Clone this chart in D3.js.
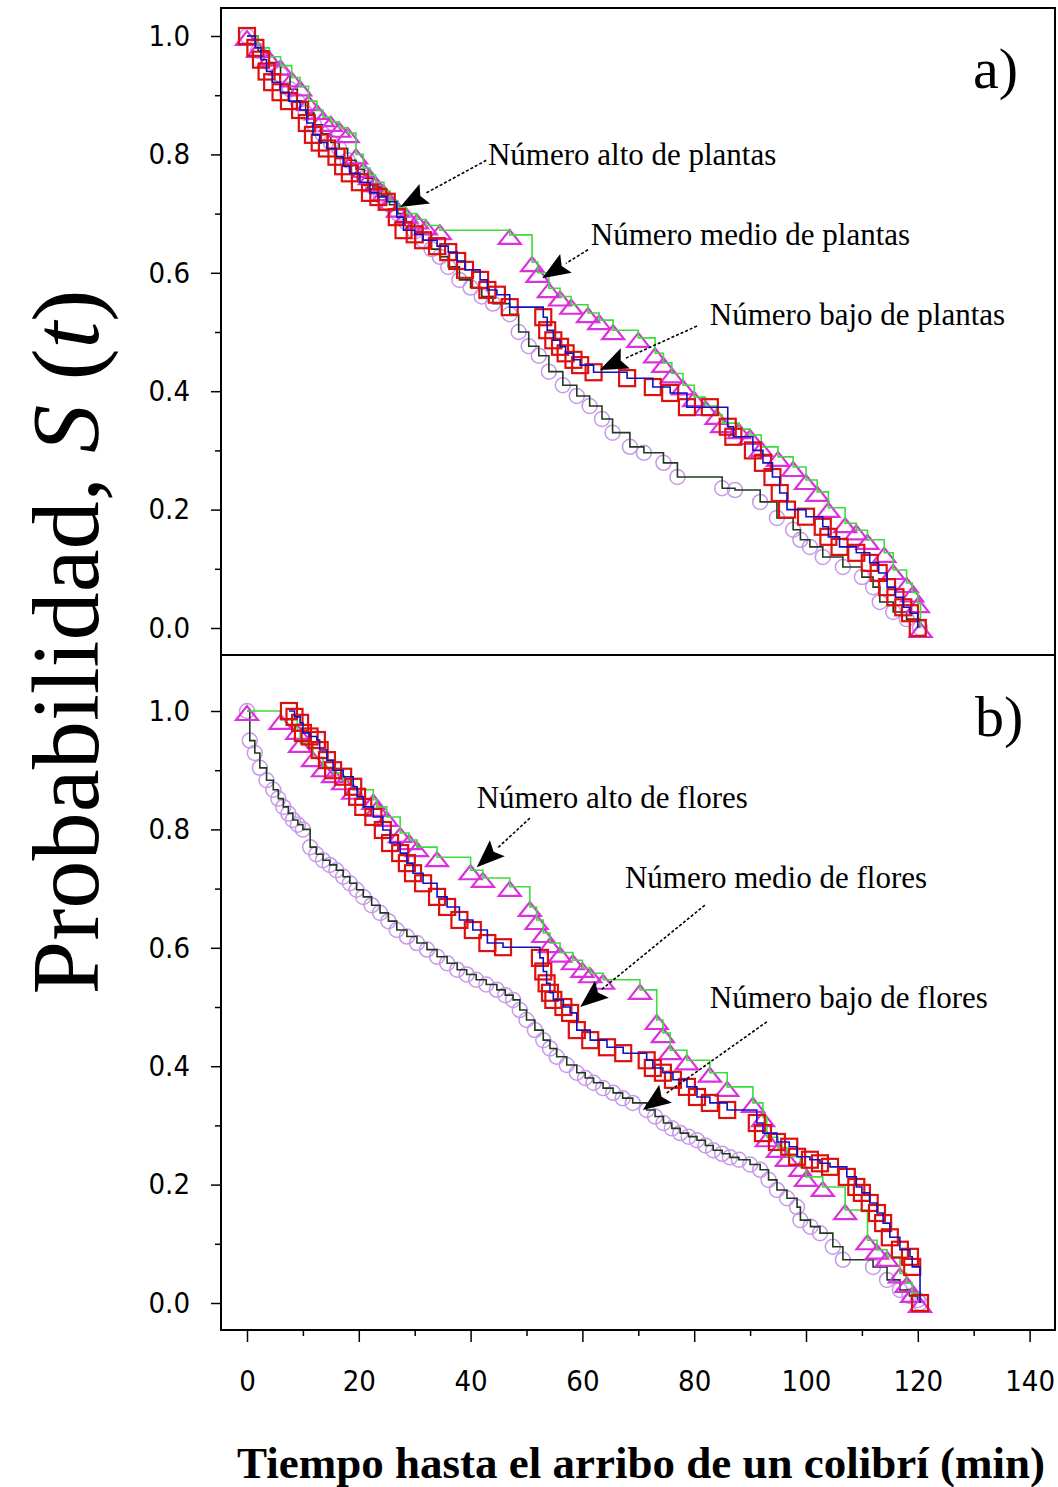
<!DOCTYPE html>
<html>
<head>
<meta charset="utf-8">
<title>Probabilidad S(t)</title>
<script src="https://d3js.org/d3.v7.min.js"></script>
<style>
  body { margin: 0; background: #fff; }
  .tick text { font-family: "Liberation Sans Narrow", "DejaVu Sans Condensed", sans-serif; font-size: 29px; fill: #000; }
  .tick line { stroke: #000; stroke-width: 1.5; }
  .anot { font-family: "Liberation Serif", "Times New Roman", serif; font-size: 31px; fill: #000; }
</style>
</head>
<body>
<div id="chart"></div>
<script>
// ---- datos: [tiempo (min), S(t)] ----
// a) plantas
var plantasAlto = [[0,1.0],[2,0.975],[4,0.955],[6,0.935],[7.7,0.91],[9,0.89],[10.5,0.87],[12,0.85],[13.5,0.835],
  [15,0.82],[16.5,0.81],[18,0.79],[19.5,0.775],[21,0.76],[22.5,0.745],[24,0.73],[25.5,0.715],[27,0.70],[28.5,0.685],
  [30,0.67],[31.5,0.655],[33,0.64],[34.5,0.627],[36,0.61],[38,0.588],[40,0.575],[42,0.56],[44,0.548],[47,0.53],
  [48.6,0.5],[50.4,0.476],[52.2,0.46],[54,0.433],[56.5,0.41],[59,0.392],[61.3,0.375],[63.5,0.353],[65.4,0.33],
  [68.5,0.306],[71,0.296],[74.5,0.279],[77,0.255],[85,0.236],[87.3,0.233],[91.8,0.213],[94.8,0.186],[97.7,0.166],
  [99,0.149],[100.7,0.137],[103,0.12],[106.6,0.103],[110,0.086],[112,0.069],[113.2,0.044],[115.6,0.027],[118,0.015],[120.4,0.0]];
var plantasMedio = [[0,1.0],[2,0.98],[4,0.965],[6,0.95],[8,0.93],[9.5,0.915],[11,0.89],[12.5,0.875],[13.6,0.863],
  [15,0.855],[16.5,0.845],[18,0.836],[19.5,0.80],[20.8,0.777],[22,0.765],[23,0.753],[24.5,0.738],[25.6,0.722],[27,0.71],
  [28.5,0.70],[30.4,0.69],[32,0.68],[34.5,0.672],[47,0.664],[51,0.618],[52,0.60],[54,0.574],[56,0.56],[58,0.546],
  [61,0.532],[63,0.52],[65.5,0.503],[70,0.49],[73,0.464],[74.5,0.448],[76,0.43],[78,0.41],[80,0.39],[82,0.375],
  [84,0.36],[85,0.346],[88,0.336],[90,0.326],[92,0.306],[95,0.289],[97.7,0.272],[100,0.25],[102,0.23],[104,0.203],
  [107,0.177],[109,0.165],[111,0.149],[114,0.127],[115.6,0.098],[118,0.076],[119,0.06],[120,0.042],[120.5,0.0]];
var plantasBajo = [[0,1.0],[1.5,0.98],[2.5,0.96],[3.5,0.94],[4.5,0.922],[6,0.905],[7.5,0.89],[9.5,0.875],[10.7,0.853],
  [11.8,0.833],[13,0.82],[14.3,0.81],[16,0.796],[17.2,0.78],[18.4,0.768],[20.2,0.753],[22,0.735],[23.5,0.728],[25,0.72],
  [26.8,0.694],[28,0.672],[30,0.665],[31.5,0.655],[34,0.645],[36,0.635],[37.6,0.62],[39,0.605],[41.7,0.588],[43,0.571],
  [44.7,0.563],[47,0.542],[53,0.525],[53.7,0.503],[54.8,0.486],[56,0.475],[57,0.464],[58.4,0.453],[59.6,0.444],
  [62,0.432],[68,0.422],[72.6,0.407],[75.7,0.397],[78.7,0.373],[82.8,0.373],[86,0.34],[87,0.323],[90.5,0.30],
  [92.3,0.279],[94,0.255],[95.3,0.228],[96.6,0.20],[100,0.188],[103,0.171],[104,0.154],[106,0.137],[109,0.127],
  [111.4,0.11],[113,0.093],[114.5,0.069],[116,0.052],[117.4,0.035],[118.6,0.025],[120,0.0]];

// b) flores
var floresAlto = [[0,1.0],[6,0.985],[9,0.968],[9.5,0.946],[11.8,0.922],[13.6,0.905],[15.4,0.895],[17.2,0.883],
  [19,0.867],[22.6,0.85],[23.2,0.838],[25,0.821],[27.4,0.794],[29,0.782],[30.4,0.77],[34,0.753],[40,0.731],
  [42.2,0.718],[47,0.703],[50.6,0.669],[51.8,0.647],[53,0.625],[54.2,0.608],[56,0.592],[58.3,0.579],[60,0.566],
  [61.4,0.557],[63.7,0.546],[70.3,0.529],[73.3,0.478],[74.4,0.456],[75.7,0.427],[78.7,0.41],[82.8,0.389],
  [85.9,0.365],[90.5,0.338],[92.3,0.314],[93,0.28],[95,0.262],[96.6,0.247],[99,0.23],[100,0.213],[103,0.196],
  [107,0.157],[111,0.106],[112.7,0.09],[114.5,0.078],[116.8,0.05],[118,0.034],[119,0.017],[120.4,0.0]];
var floresMedio = [[7.5,1.0],[8.5,0.99],[9.5,0.98],[10,0.963],[11.2,0.957],[12.5,0.951],[13,0.934],[14.3,0.917],
  [15.4,0.9],[17.2,0.889],[19,0.872],[19.7,0.855],[20.8,0.838],[22.6,0.821],[24.3,0.799],[25.6,0.777],[27.4,0.76],
  [28.6,0.743],[29.7,0.726],[31.5,0.709],[34,0.686],[35.8,0.669],[38,0.647],[40.4,0.63],[43,0.608],[45.8,0.601],
  [52.4,0.583],[53,0.56],[53.6,0.54],[54.2,0.524],[54.8,0.512],[56.6,0.5],[57.8,0.49],[59,0.461],[61.4,0.444],
  [64.4,0.432],[67.3,0.422],[71.5,0.41],[72.6,0.397],[74.4,0.389],[76.2,0.377],[78.7,0.365],[80.5,0.348],
  [82.8,0.338],[85.9,0.326],[91.2,0.304],[92.3,0.287],[94.8,0.272],[97,0.264],[98.4,0.247],[100.7,0.242],
  [102.5,0.236],[104.3,0.23],[107.3,0.213],[109,0.196],[110,0.186],[111.4,0.169],[112.7,0.152],[113.8,0.135],
  [115,0.111],[116.8,0.09],[118.6,0.078],[119,0.061],[120.4,0.0]];
var floresBajo = [[0,1.0],[0.5,0.95],[1.4,0.929],[2.3,0.904],[3.5,0.883],[4.7,0.867],[5.6,0.852],[6.5,0.838],
  [7.4,0.827],[8.2,0.816],[9.1,0.808],[10,0.80],[11.3,0.77],[12.4,0.758],[13.6,0.748],[14.8,0.74],[16,0.731],
  [17.2,0.72],[18.4,0.709],[19.6,0.698],[20.8,0.686],[22.3,0.672],[23.8,0.659],[25.3,0.645],[26.8,0.63],
  [28.6,0.619],[30.4,0.608],[32.2,0.597],[34,0.585],[35.8,0.574],[37.6,0.563],[39.3,0.555],[41,0.546],
  [42.8,0.538],[44.7,0.529],[46.2,0.52],[47.6,0.512],[48.8,0.495],[50,0.478],[51.5,0.461],[53,0.444],
  [54.2,0.43],[55.4,0.416],[57.2,0.402],[59,0.389],[60.5,0.38],[62,0.372],[63.7,0.363],[65.5,0.355],
  [67.2,0.346],[69,0.338],[71.5,0.326],[73,0.315],[74.5,0.304],[76,0.295],[77.5,0.287],[79,0.281],[80.5,0.275],
  [82,0.266],[83.4,0.258],[85,0.252],[86.4,0.246],[88,0.242],[90,0.234],[91.8,0.225],[93.3,0.208],[94.8,0.191],
  [96.6,0.177],[98.4,0.162],[99,0.14],[100.8,0.129],[102.5,0.118],[104.8,0.095],[106.6,0.073],[112,0.061],
  [114.5,0.039],[116.8,0.022],[118.5,0.012],[120,0.005],[120.4,0.0]];

var ticksMayoresY = [0, 0.2, 0.4, 0.6, 0.8, 1.0];
var ticksMenoresY = [0.1, 0.3, 0.5, 0.7, 0.9];
var ticksMayoresX = [0, 20, 40, 60, 80, 100, 120, 140];
var ticksMenoresX = [10, 30, 50, 70, 90, 110, 130];

// ---- layout ----
var width = 1058, height = 1487;
var frame = { left: 221, right: 1055, top: 8, mid: 655, bottom: 1330 };

var svg = d3.select("#chart").append("svg")
  .attr("width", width)
  .attr("height", height);

var x = d3.scaleLinear().domain([0, 140]).range([247, 1029.6]);
var yA = d3.scaleLinear().domain([0, 1]).range([628, 36]);
var yB = d3.scaleLinear().domain([0, 1]).range([1303, 711]);

// y axes (both panels)
function ejeY(scale) {
  svg.append("g")
    .attr("transform", "translate(" + frame.left + ",0)")
    .call(d3.axisLeft(scale).tickValues(ticksMayoresY).tickSize(10).tickPadding(21).tickFormat(d3.format(".1f")))
    .call(function (g) { g.select(".domain").remove(); });
  svg.append("g")
    .attr("transform", "translate(" + frame.left + ",0)")
    .call(d3.axisLeft(scale).tickValues(ticksMenoresY).tickSize(6).tickFormat(""))
    .call(function (g) { g.select(".domain").remove(); });
}
ejeY(yA);
ejeY(yB);

// x axis (bottom only)
svg.append("g")
  .attr("transform", "translate(0," + frame.bottom + ")")
  .call(d3.axisBottom(x).tickValues(ticksMayoresX).tickSize(12).tickPadding(28).tickFormat(d3.format("d")))
  .call(function (g) { g.select(".domain").remove(); });
svg.append("g")
  .attr("transform", "translate(0," + frame.bottom + ")")
  .call(d3.axisBottom(x).tickValues(ticksMenoresX).tickSize(6).tickFormat(""))
  .call(function (g) { g.select(".domain").remove(); });

// series
var triangulo = "M-11,7L0,-7L11,7Z";

function serie(y, datos, forma, colorMarca, colorLinea) {
  var g = svg.append("g");
  var sel = g.selectAll(".m").data(datos).enter();
  if (forma === "circulo") {
    sel.append("circle")
      .attr("cx", function (d) { return x(d[0]); })
      .attr("cy", function (d) { return y(d[1]); })
      .attr("r", 7.5)
      .attr("fill", "none")
      .attr("stroke", colorMarca)
      .attr("stroke-width", 1.5);
  } else if (forma === "cuadrado") {
    sel.append("rect")
      .attr("x", function (d) { return x(d[0]) - 8; })
      .attr("y", function (d) { return y(d[1]) - 8; })
      .attr("width", 16)
      .attr("height", 16)
      .attr("fill", "none")
      .attr("stroke", colorMarca)
      .attr("stroke-width", 2.2);
  } else {
    sel.append("path")
      .attr("d", triangulo)
      .attr("transform", function (d) { return "translate(" + x(d[0]) + "," + (y(d[1]) + 2) + ")"; })
      .attr("fill", "none")
      .attr("stroke", colorMarca)
      .attr("stroke-width", 2.2);
  }
  g.append("path")
    .datum(datos)
    .attr("fill", "none")
    .attr("stroke", colorLinea)
    .attr("stroke-width", 1.6)
    .attr("d", d3.line()
      .curve(d3.curveStepAfter)
      .x(function (d) { return x(d[0]); })
      .y(function (d) { return y(d[1]); }));
}

var cCirc = "#c79ae8", cTri = "#dd30dd", cCuad = "#dd1010";
var lCirc = "#1f3a1f", lTri = "#3ddc3d", lCuad = "#1010c0";

serie(yA, plantasAlto, "circulo", cCirc, lCirc);
serie(yA, plantasMedio, "triangulo", cTri, lTri);
serie(yA, plantasBajo, "cuadrado", cCuad, lCuad);

serie(yB, floresBajo, "circulo", cCirc, lCirc);
serie(yB, floresAlto, "triangulo", cTri, lTri);
serie(yB, floresMedio, "cuadrado", cCuad, lCuad);

// annotations: text position, dashed line start, arrow tip (data units)
var anotaciones = [
  { y: yA, texto: "Número alto de plantas", tx: 43.1, ts: 0.782, x1: 42.8, s1: 0.79, x2: 27.4, s2: 0.711 },
  { y: yA, texto: "Número medio de plantas", tx: 61.5, ts: 0.647, x1: 61, s1: 0.639, x2: 52.8, s2: 0.591 },
  { y: yA, texto: "Número bajo de plantas", tx: 82.8, ts: 0.512, x1: 80.5, s1: 0.51, x2: 63.1, s2: 0.436 },
  { y: yB, texto: "Número alto de flores", tx: 41.1, ts: 0.836, x1: 50.6, s1: 0.819, x2: 41.1, s2: 0.736 },
  { y: yB, texto: "Número medio de flores", tx: 67.6, ts: 0.701, x1: 81.9, s1: 0.672, x2: 59.6, s2: 0.5 },
  { y: yB, texto: "Número bajo de flores", tx: 82.8, ts: 0.498, x1: 93, s1: 0.475, x2: 70.8, s2: 0.326 }
];

anotaciones.forEach(function (a) {
  var px1 = x(a.x1), py1 = a.y(a.s1), px2 = x(a.x2), py2 = a.y(a.s2);
  var dx = px2 - px1, dy = py2 - py1, L = Math.sqrt(dx * dx + dy * dy);
  var ux = dx / L, uy = dy / L, largo = 28, ancho = 11;
  var bx = px2 - ux * largo, by = py2 - uy * largo;
  svg.append("line")
    .attr("x1", px1).attr("y1", py1)
    .attr("x2", bx).attr("y2", by)
    .attr("stroke", "#000")
    .attr("stroke-width", 1.6)
    .attr("stroke-dasharray", "3,2");
  svg.append("path")
    .attr("d", "M" + px2 + "," + py2 +
      "L" + (bx - uy * ancho) + "," + (by + ux * ancho) +
      "L" + (bx + ux * 5) + "," + (by + uy * 5) +
      "L" + (bx + uy * ancho) + "," + (by - ux * ancho) + "Z")
    .attr("fill", "#000");
  svg.append("text")
    .attr("class", "anot")
    .attr("x", x(a.tx))
    .attr("y", a.y(a.ts))
    .text(a.texto);
});

// frame
svg.append("rect")
  .attr("x", frame.left).attr("y", frame.top)
  .attr("width", frame.right - frame.left)
  .attr("height", frame.bottom - frame.top)
  .attr("fill", "none")
  .attr("stroke", "#000")
  .attr("stroke-width", 2);
svg.append("line")
  .attr("x1", frame.left).attr("x2", frame.right)
  .attr("y1", frame.mid).attr("y2", frame.mid)
  .attr("stroke", "#000")
  .attr("stroke-width", 2);

// panel labels
svg.append("text").attr("x", 973).attr("y", 88)
  .style("font-family", "Liberation Serif, serif").style("font-size", "58px").text("a)");
svg.append("text").attr("x", 975).attr("y", 736)
  .style("font-family", "Liberation Serif, serif").style("font-size", "58px").text("b)");

// x title
svg.append("text")
  .attr("x", 641).attr("y", 1478)
  .attr("text-anchor", "middle")
  .attr("textLength", 808)
  .attr("lengthAdjust", "spacingAndGlyphs")
  .style("font-family", "Liberation Serif, serif")
  .style("font-weight", "bold")
  .style("font-size", "45px")
  .text("Tiempo hasta el arribo de un colibrí (min)");

// y title
var yt = svg.append("text")
  .attr("transform", "translate(98,642) rotate(-90)")
  .attr("text-anchor", "middle")
  .attr("textLength", 705)
  .attr("lengthAdjust", "spacingAndGlyphs")
  .style("font-family", "Liberation Serif, serif")
  .style("font-size", "95px");
yt.append("tspan").text("Probabilidad, ");
yt.append("tspan").style("font-style", "italic").text("S");
yt.append("tspan").text(" (");
yt.append("tspan").style("font-style", "italic").text("t");
yt.append("tspan").text(")");
</script>
</body>
</html>
